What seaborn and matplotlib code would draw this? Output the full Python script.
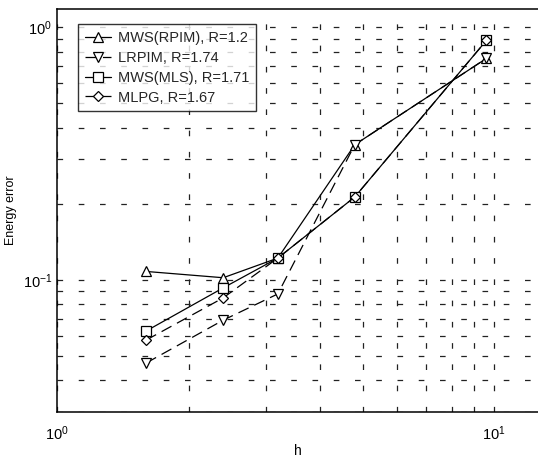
import matplotlib
matplotlib.use("Agg")
import matplotlib.pyplot as plt
import seaborn as sns
import pandas as pd
from matplotlib.ticker import LogLocator, NullFormatter

sns.set_theme(style="white")
plt.rcParams['font.family'] = ['Liberation Sans', 'DejaVu Sans']

h = [1.6, 2.4, 3.2, 4.8, 9.6]
series_names = ["MWS(RPIM), R=1.2", "LRPIM, R=1.74", "MWS(MLS), R=1.71", "MLPG, R=1.67"]
rpim = [0.108, 0.102, 0.122, 0.343, 0.753]
lrpim = [0.0469, 0.0693, 0.088, 0.343, 0.753]
mls = [0.0628, 0.093, 0.122, 0.213, 0.887]
mlpg = [0.0578, 0.0849, 0.122, 0.213, 0.887]

values = [rpim, lrpim, mls, mlpg]
markers = ["^", "v", "s", "D"]
msizes = [7, 7, 6.5, 5.5]
lstyles = ["-", (0, (9, 5)), "-", (0, (9, 5))]

fig = plt.figure(figsize=(5.38, 4.57), dpi=100)
ax = fig.add_axes([0.106, 0.0985, 0.894, 0.8815])

for name, vals, m, ms, ls in zip(series_names, values, markers, msizes, lstyles):
    df = pd.DataFrame({"h": h, "err": vals})
    sns.lineplot(data=df, x="h", y="err", ax=ax, color="black", marker=m,
                 markersize=ms, markerfacecolor="white", markeredgecolor="black",
                 markeredgewidth=0.9, linewidth=0.9, linestyle=ls, label=name)

ax.set_xscale("log")
ax.set_yscale("log")
ax.set_xlim(1, 12.6)
ax.set_ylim(0.03, 1.18)

ax.xaxis.set_major_locator(LogLocator(base=10))
ax.xaxis.set_minor_locator(LogLocator(base=10, subs=range(2, 10)))
ax.yaxis.set_major_locator(LogLocator(base=10))
ax.yaxis.set_minor_locator(LogLocator(base=10, subs=range(2, 10)))
ax.xaxis.set_minor_formatter(NullFormatter())
ax.yaxis.set_minor_formatter(NullFormatter())

ax.grid(True, which="both", color="#222222", linestyle=(0, (4.5, 12.5)), linewidth=0.9)
ax.tick_params(which="both", direction="in", labelsize=10.5, colors="black")
ax.tick_params(which="major", length=4)
ax.tick_params(which="minor", length=2)
ax.tick_params(axis="x", which="major", pad=9)
for s in ["left", "bottom", "top"]:
    ax.spines[s].set_color("black")
    ax.spines[s].set_linewidth(1.1)
ax.spines["right"].set_visible(False)

ax.set_xlabel("h", fontsize=10, color="black", labelpad=1)
ax.set_ylabel("Energy error", fontsize=9, color="black")

leg = ax.legend(loc="upper left", bbox_to_anchor=(0.044, 0.962), borderaxespad=0,
                fontsize=10.5, frameon=True, fancybox=False, edgecolor="black",
                handlelength=1.8, borderpad=0.45, labelspacing=0.4, handletextpad=0.5)
leg.get_frame().set_linewidth(1.0)

fig.savefig("out.png", dpi=100)
